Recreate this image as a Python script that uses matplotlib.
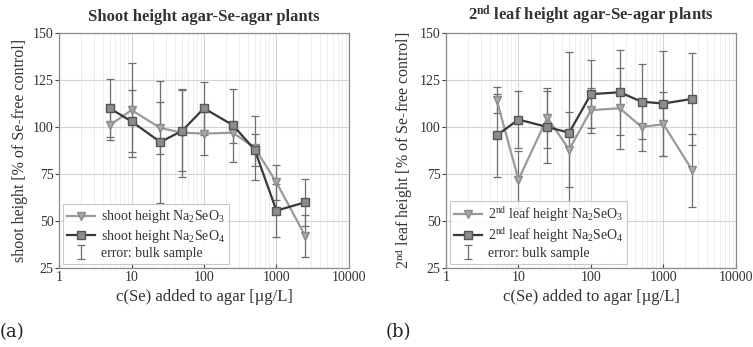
import matplotlib
matplotlib.use("Agg")
import matplotlib.pyplot as plt
import numpy as np

plt.rcParams['font.family'] = ['Liberation Serif', 'DejaVu Serif']
plt.rcParams['mathtext.fontset'] = 'custom'
plt.rcParams['mathtext.rm'] = 'Liberation Serif'
plt.rcParams['mathtext.it'] = 'Liberation Serif:italic'
plt.rcParams['mathtext.bf'] = 'Liberation Serif:bold'

# Se concentration added to agar [ug/L]
conc = [5, 10, 25, 50, 100, 250, 500, 1000, 2500]

# (a) shoot height
shoot_seo3 = [101, 109, 99.5, 97, 96.5, 97, 89, 70.5, 42]
shoot_seo3_err = [8, 25, 14, 23.5, 11.5, 5.5, 17, 9.5, 11]
shoot_seo4 = [110, 103, 92, 98, 110, 101, 88, 55.5, 60]
shoot_seo4_err = [15.5, 16.5, 32.5, 21.5, 14, 19.5, 8.5, 14, 12.5]

# (b) 2nd leaf height
leaf_seo3 = [114.5, 72, 105, 88, 109, 110, 100, 101.5, 77]
leaf_seo3_err = [7, 15, 16, 20, 12, 21.5, 13, 17, 19.5]
leaf_seo4 = [95.5, 104, 100, 97, 117.5, 118.5, 113.5, 112.5, 115]
leaf_seo4_err = [22, 15, 19, 43, 18, 22.5, 20, 28, 24.5]

yticks = [25, 50, 75, 100, 125, 150]
xticks = [1, 10, 100, 1000, 10000]

c_light = '#9a9a9a'
c_dark = '#383838'
c_err = '#6e6e6e'

fig = plt.figure(figsize=(7.53, 3.47), dpi=100)
ax1 = fig.add_axes([0.0784, 0.2277, 0.385, 0.677])
ax2 = fig.add_axes([0.5923, 0.2277, 0.385, 0.677])


def draw(ax, y3, e3, y4, e4, lab3, lab4, title, ylabel):
    ax.errorbar(conc, y3, yerr=e3, fmt='none', ecolor=c_err, elinewidth=0.9,
                capsize=3, capthick=0.9, zorder=2)
    ax.errorbar(conc, y4, yerr=e4, fmt='none', ecolor=c_err, elinewidth=0.9,
                capsize=3, capthick=0.9, zorder=2)
    ax.plot(conc, y3, color=c_light, lw=1.6, marker='v', ms=5.5,
            mfc='#a8a8a8', mec='#8a8a8a', label=lab3, zorder=3)
    ax.plot(conc, y4, color=c_dark, lw=1.6, marker='s', ms=5.5,
            mfc='#8c8c8c', mec='#555555', label=lab4, zorder=4)
    ax.errorbar([np.nan], [np.nan], yerr=[1], fmt='none', ecolor=c_err,
                elinewidth=0.9, capsize=3, capthick=0.9,
                label='error: bulk sample')

    ax.set_xscale('log')
    ax.set_xlim(1, 10000)
    ax.set_ylim(25, 150)
    ax.set_xticks(xticks)
    ax.set_xticklabels([str(t) for t in xticks])
    ax.set_yticks(yticks)
    ax.grid(True, which='major', color='#d4d4d4', lw=0.8)
    ax.grid(True, which='minor', axis='x', color='#ebebeb', lw=0.6)
    ax.set_axisbelow(True)
    for s in ax.spines.values():
        s.set_color('#8a8a8a')
        s.set_linewidth(0.9)
    ax.tick_params(axis='x', which='major', direction='in', length=3,
                   labelsize=10, colors='#444444', labelcolor='#333333', pad=2)
    ax.tick_params(axis='x', which='minor', length=0)
    ax.tick_params(axis='y', direction='out', length=3, labelsize=10,
                   colors='#444444', labelcolor='#333333', pad=1)
    ax.set_xlabel('c(Se) added to agar [µg/L]', fontsize=12, color='#333333',
                  labelpad=4)
    ax.set_ylabel(ylabel, fontsize=11.5, color='#333333', labelpad=3)
    ax.set_title(title, fontsize=12, fontweight='bold', color='#333333',
                 pad=9)
    leg = ax.legend(loc='lower left', fontsize=10, frameon=True, fancybox=False,
                    edgecolor='#bbbbbb', borderaxespad=0.3, handlelength=2.0,
                    handletextpad=0.4, labelspacing=0.15, borderpad=0.3)
    leg.get_frame().set_linewidth(0.8)
    for t in leg.get_texts():
        t.set_color('#333333')


draw(ax1, shoot_seo3, shoot_seo3_err, shoot_seo4, shoot_seo4_err,
     'shoot height Na$_2$SeO$_3$', 'shoot height Na$_2$SeO$_4$',
     'Shoot height agar-Se-agar plants',
     'shoot height [% of Se-free control]')
draw(ax2, leaf_seo3, leaf_seo3_err, leaf_seo4, leaf_seo4_err,
     '2$^{\\rm nd}$ leaf height Na$_2$SeO$_3$', '2$^{\\rm nd}$ leaf height Na$_2$SeO$_4$',
     '2$^{\\bf nd}$ leaf height agar-Se-agar plants',
     '2$^{\\rm nd}$ leaf height [% of Se-free control]')

fig.text(0.0, 0.03, '(a)', fontsize=13, family='DejaVu Serif', color='#222222')
fig.text(0.512, 0.03, '(b)', fontsize=13, family='DejaVu Serif', color='#222222')

fig.savefig('out.png', dpi=100)
